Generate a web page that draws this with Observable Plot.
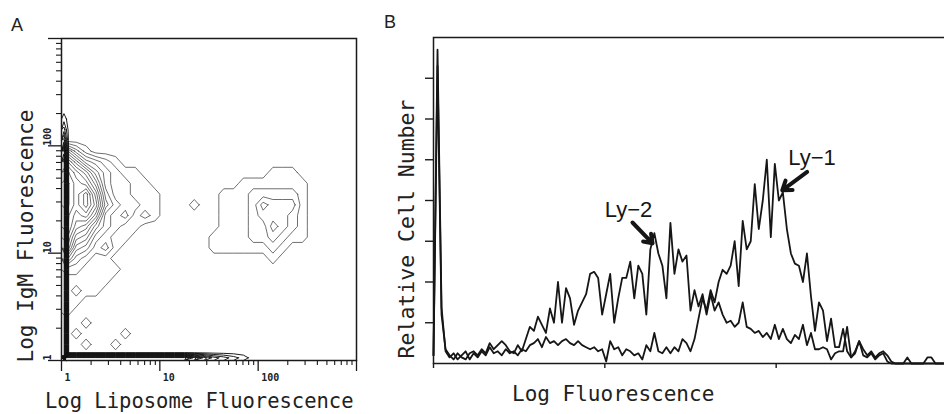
<!DOCTYPE html>
<html><head><meta charset="utf-8">
<script src="https://cdn.jsdelivr.net/npm/d3@7"></script>
<script src="https://cdn.jsdelivr.net/npm/@observablehq/plot@0.6"></script>
<style>
html,body{margin:0;padding:0;background:#fff;}
#wrap{position:relative;width:944px;height:414px;overflow:hidden;background:#fff;}
#panelA{position:absolute;left:0;top:0;width:380px;height:414px;}
#panelB{position:absolute;left:380px;top:0;width:567px;height:414px;}
#overlay{position:absolute;left:0;top:0;pointer-events:none;}
#overlay text{fill:#222;}
.mono{font-family:"DejaVu Sans Mono",monospace;}
.sans{font-family:"Liberation Sans",Arial,sans-serif;}
</style></head><body>
<div id="wrap">
  <div id="panelA"></div>
  <div id="panelB"></div>
  <svg id="overlay" width="944" height="414">
    <text class="sans" x="11" y="31" font-size="18">A</text>
    <text class="sans" x="384" y="28" font-size="18">B</text>
    <text class="mono" x="45" y="408" font-size="20.5">Log Liposome Fluorescence</text>
    <text class="mono" font-size="21" text-anchor="middle" transform="translate(33,236) rotate(-90)">Log IgM Fluorescence</text>
    <text class="mono" font-size="21.5" text-anchor="middle" transform="translate(414,229) rotate(-90)">Relative Cell Number</text>
    <text class="mono" x="512" y="401" font-size="21">Log Fluorescence</text>
  </svg>
</div>
<script>
// ---------- Panel A data: contour grid (log10 steps of 0.1), rows listed top (IgM 10^2.4) to bottom (IgM 1) ----------
const igmGridRows = [
  "00000000000000000000000000",
  "00000000000000000000000000",
  "00000000000000000000000000",
  "00000000000000000000000000",
  "63100000000000000000000000",
  "a7432100000000000000000000",
  "ca853211000000000000011100",
  "dba73221100000000011111110",
  "dbd94221110000001112222210",
  "dbda5322110001001112433310",
  "cab83231210000001112333210",
  "c9853211000000001112243210",
  "b7632110000000011112232110",
  "a5423100000000011111121000",
  "63211000000000000000010000",
  "22111100000000000000000000",
  "11111000000000000000000000",
  "12110000000000000000000000",
  "11000000000000000000000000",
  "10000000000000000000000000",
  "00100000000000000000000000",
  "01000010000000000000000000",
  "00100100000000000000000000",
  "00000000000000000000000000"
];
// dense strip along the IgM axis (bottom row first), and along the liposome axis
const leftStrip = "ccccccccccccccccccca6310";
const bottomStrip = "ccccccccccccc9643210";

const xMajor = [1, 10, 100, 1000];
const xMinor = [2,3,4,5,6,7,8,9,20,30,40,50,60,70,80,90,200,300,400,500,600,700,800,900];
const yMajor = [1, 10, 100, 1000];
const yMinor = xMinor;
const tickLabels = [1, 10, 100];

// ---------- Panel B data: histograms, one value every 2 channels ----------
const ly1 = [0.2,7.7,1.38,0.3,0.15,0.25,0.1,0.2,0.3,0.1, 0.25,0.15,0.3,0.2,0.4,0.25,0.3,0.2,0.35,0.25,
  0.3,0.2,0.35,0.3,0.45,0.5,0.6,0.4,0.65,0.5, 0.55,0.45,0.55,0.6,0.5,0.45,0.55,0.45,0.4,0.35,
  0.4,0.3,0.35,0.05,0.55,0.35,0.4,0.2,0.35,0.3, 0.2,0.25,0.1,0.45,0.3,0.75,0.3,0.25,0.4,0.25,
  0.4,0.3,0.6,0.5,0.3,0.6,1.1,1.6,1.3,1.8, 1.5,2.0,2.3,2.2,2.4,3.0,1.9,3.5,2.8,3.0,
  4.4,3.3,4.0,5.0,3.1,4.9,4.0,4.2,3.3,2.7, 2.45,2.4,2.0,2.7,1.65,0.8,1.5,1.3,0.55,1.1,
  0.4,0.4,0.85,0.3,0.15,0.3,0.55,0.35,0.2,0.3, 0.15,0.25,0.3,0.2,0.05,0,0,0,0.15,0,
  0,0,0,0.15,0.15,0,0,0];
const ly2 = [0.2,7.3,1.2,0.35,0.2,0.1,0.25,0.15,0.1,0.25, 0.3,0.2,0.35,0.25,0.5,0.35,0.45,0.55,0.45,0.3,
  0.25,0.45,0.3,0.6,0.9,0.8,1.15,0.95,0.75,1.35, 1.0,2.0,1.0,1.85,1.6,0.95,1.3,1.5,1.7,2.2,
  2.25,2.1,1.2,1.7,2.2,1.0,1.6,2.1,2.1,2.5, 1.6,2.4,2.2,1.2,2.8,3.2,2.7,2.4,1.6,3.45,
  2.2,2.8,2.5,2.65,1.3,1.8,1.4,1.7,1.2,1.7, 1.3,1.5,1.2,1.0,1.05,0.9,1.0,1.5,0.9,0.85,
  0.75,0.8,0.65,0.75,0.6,0.95,0.6,0.85,0.6,0.5, 0.7,0.6,0.95,0.45,0.75,0.35,0.35,0.4,0.35,0.1,
  0.25,0.3,0.3,0.9,0.15,0.25,0.55,0.2,0.15,0.25, 0.1,0.2,0.25,0.05,0,0,0,0,0,0,
  0,0,0,0,0,0,0,0];
const channelStep = 2;
const channels = 256;
const decades = [0, 1, 2, 3];
const countTicks = [1, 2, 3, 4, 5, 6, 7];

const annLabel = ["Ly\u22121", "Ly\u22122"];
const annTextX = [188.5, 97.1];
const annTextY = [5.05, 3.76];
const arrowX1 = [186.1, 99.1];
const arrowY1 = [4.70, 3.46];
const arrowX2 = [173.7, 109.1];
const arrowY2 = [4.25, 2.95];

// ---------- build ----------
const hex = s => Array.from(s, ch => parseInt(ch, 16));
const mainValues = igmGridRows.slice().reverse().flatMap(r => hex(r));
const leftValues = hex(leftStrip).flatMap(v => [v, 0]);
const bottomValues = hex(bottomStrip).concat(new Array(bottomStrip.length).fill(0));
const levels = d3.range(0.5, 13, 1);

// contour rings in (log) data space; grid coords -> 10^(cell * g)
let ringId = 0;
function rings(values, w, h, cellX, cellY) {
  const out = [];
  for (const mp of d3.contours().size([w, h]).thresholds(levels)(values)) {
    for (const poly of mp.coordinates) for (const ring of poly) {
      const id = ringId++;
      for (const [gx, gy] of ring) out.push({x: 10 ** (gx * cellX), y: 10 ** (gy * cellY), id});
    }
  }
  return out;
}
const clusterPts = rings(mainValues, 26, 24, 0.1, 0.1);
const stripPts = [...rings(leftValues, 2, 24, 0.05, 0.1), ...rings(bottomValues, 20, 2, 0.1, 0.05)];
const tickFont = {fontFamily: "DejaVu Sans Mono", fontWeight: "bold", fontSize: 10, fill: "#222"};

const plotA = Plot.plot({
  width: 380, height: 414,
  marginLeft: 61, marginRight: 24, marginTop: 38, marginBottom: 54,
  style: {background: "transparent", color: "#1a1a1a", maxWidth: "none"},
  x: {type: "log", domain: [1, 1000], axis: null},
  y: {type: "log", domain: [1, 1000], axis: null},
  marks: [
    Plot.line(clusterPts, {x: "x", y: "y", z: "id", stroke: "#404040", strokeWidth: 0.75, curve: "linear-closed"}),
    Plot.line(stripPts, {x: "x", y: "y", z: "id", stroke: "#111", strokeWidth: 0.95, curve: "linear-closed"}),
    Plot.frame({stroke: "#1a1a1a", strokeWidth: 1.5}),
    Plot.axisX({ticks: xMinor, tickSize: 5, tickFormat: () => "", label: null, strokeWidth: 1.1}),
    Plot.axisX({ticks: xMajor, tickSize: 11, tickFormat: () => "", label: null, strokeWidth: 1.3}),
    Plot.axisY({ticks: yMinor, tickSize: 5, tickFormat: () => "", label: null, strokeWidth: 1.1}),
    Plot.axisY({ticks: yMajor, tickSize: 13, tickFormat: () => "", label: null, strokeWidth: 1.3}),
    Plot.text(tickLabels, {x: d => d, text: d => String(d), frameAnchor: "bottom", dy: 13, dx: 3, textAnchor: "start", lineAnchor: "top", ...tickFont}),
    Plot.text(tickLabels, {y: d => d, text: d => String(d), frameAnchor: "left", dx: -14, rotate: -90, textAnchor: "start", ...tickFont})
  ]
});
document.getElementById("panelA").append(plotA);

const plotB = Plot.plot({
  width: 567, height: 414,
  marginLeft: 53, marginRight: 0, marginTop: 37, marginBottom: 51,
  style: {background: "transparent", color: "#1a1a1a", maxWidth: "none"},
  x: {domain: [0, channels], axis: null},
  y: {domain: [0, 8], axis: null},
  marks: [
    Plot.frame({stroke: "#1a1a1a", strokeWidth: 1.5}),
    Plot.axisY({ticks: countTicks, tickSize: 8, tickFormat: () => "", label: null, strokeWidth: 1.4}),
    Plot.axisX({ticks: decades.map(d => d * channels / 3), tickSize: 5, tickFormat: () => "", label: null, strokeWidth: 1.4}),
    Plot.line(ly2, {x: (d, i) => i * channelStep, y: d => d, stroke: "#161616", strokeWidth: 1.8, strokeLinejoin: "round"}),
    Plot.line(ly1, {x: (d, i) => i * channelStep, y: d => d, stroke: "#161616", strokeWidth: 1.8, strokeLinejoin: "round"}),
    Plot.arrow(annLabel, {x1: (d, i) => arrowX1[i], y1: (d, i) => arrowY1[i], x2: (d, i) => arrowX2[i], y2: (d, i) => arrowY2[i], stroke: "#161616", strokeWidth: 4, headLength: 5, headAngle: 70}),
    Plot.text(annLabel, {x: (d, i) => annTextX[i], y: (d, i) => annTextY[i], text: d => d, fontFamily: "Liberation Sans, Arial, sans-serif", fontSize: 22, fill: "#161616"})
  ]
});
document.getElementById("panelB").append(plotB);
</script>
</body></html>
